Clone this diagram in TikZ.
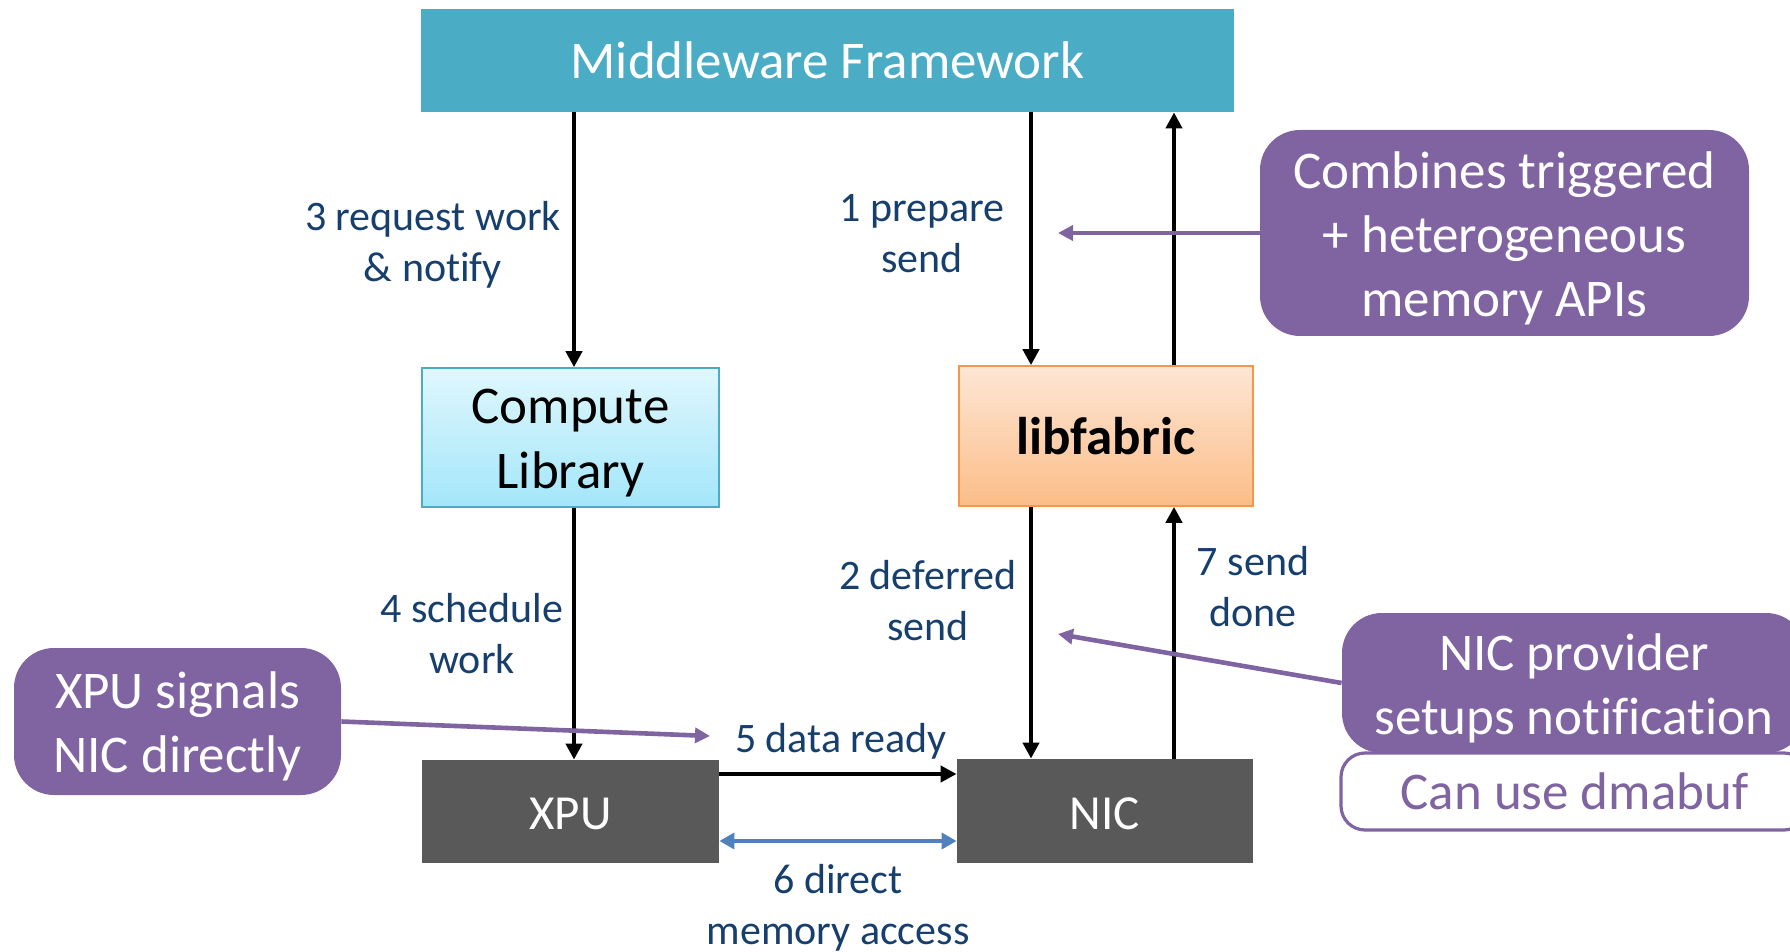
\documentclass[tikz,border=0pt]{standalone}
\usepackage{fontspec}
\setmainfont{Carlito}[Ligatures=NoCommon]
\usetikzlibrary{arrows.meta,calc}
\definecolor{mwteal}{HTML}{4BACC6}
\definecolor{clborder}{HTML}{4BACC6}
\definecolor{cltop}{HTML}{E0F7FD}
\definecolor{clbot}{HTML}{A3E6FA}
\definecolor{lftop}{HTML}{FDE6D5}
\definecolor{lfbot}{HTML}{FBBD88}
\definecolor{lfborder}{HTML}{F79646}
\definecolor{hwgray}{HTML}{595959}
\definecolor{lblblue}{HTML}{173F6E}
\definecolor{calloutpurple}{HTML}{8064A2}
\definecolor{dmablue}{HTML}{4F81BD}
% lower the text lines inside a fixed-size box without changing the box
\newcommand\lowerlines[2]{\raisebox{-#1}[\height][\depth]{\begin{tabular}{@{}c@{}}#2\end{tabular}}}
\begin{document}
\begin{tikzpicture}[x=0.5pt,y=-0.5pt,
  box/.style={rectangle,inner sep=0pt,align=center,font=\fontsize{26.5}{32.5}\selectfont},
  hw/.style={box,fill=hwgray,text=white,font=\fontsize{24.5}{30}\selectfont,text height=18pt,text depth=0pt},
  lbl/.style={align=center,inner sep=0pt,text=lblblue,font=\fontsize{21}{25.5}\selectfont},
  callout/.style={rectangle,rounded corners=20pt,fill=calloutpurple,text=white,inner sep=0pt,font=\fontsize{26.5}{32}\selectfont},
  blk/.style={line width=2.3pt,-{Triangle[length=8pt,width=8pt]}},
  parr/.style={draw=calloutpurple,line width=2.3pt,-{Triangle[length=7.5pt,width=7.5pt]},fill=calloutpurple},
  dma/.style={draw=dmablue,line width=2.3pt,{Triangle[length=7.5pt,width=8pt]}-{Triangle[length=7.5pt,width=8pt]}}
]
\useasboundingbox (0,0) rectangle (1790,952);

% main boxes
\node[box,fill=mwteal,text=white,minimum width=406.5pt,minimum height=51.5pt] (mw) at (827.5,60.5) {Middleware Framework};
\node[box,draw=clborder,line width=0.8pt,top color=cltop,bottom color=clbot,minimum width=148.5pt,minimum height=69.5pt] (cl) at (570.5,437.5) {\lowerlines{3pt}{Compute\\Library}};
\node[box,draw=lfborder,line width=0.8pt,top color=lftop,bottom color=lfbot,minimum width=147pt,minimum height=70pt,font=\fontsize{26.5}{32.5}\selectfont\bfseries] (lf) at (1106,436) {libfabric};
\node[hw,minimum width=148.5pt,minimum height=51.5pt] (xpu) at (570.5,811.5) {XPU};
\node[hw,minimum width=148pt,minimum height=52pt] (nic) at (1105,811) {NIC};

% column coordinates
\coordinate (c1) at (574,0);
\coordinate (c2) at (1031,0);
\coordinate (c3) at (1174,0);
\coordinate (r1) at (0,774);
\coordinate (r2) at (0,841);

% black arrows
\draw[blk] (mw.south -| c1) -- (cl.north -| c1);
\draw[blk] (mw.south -| c2) -- (lf.north -| c2);
\draw[blk] (lf.north -| c3) -- (mw.south -| c3);
\draw[blk] (cl.south -| c1) -- (xpu.north -| c1);
\draw[blk] (lf.south -| c2) -- (nic.north -| c2);
\draw[blk] (nic.north -| c3) -- (lf.south -| c3);
\draw[blk] (xpu.east |- r1) -- (nic.west |- r1);
\draw[dma] (xpu.east |- r2) -- (nic.west |- r2);

% labels
\node[lbl] (l3) at (433,244.5) {3 request work\\\& notify};
\node[lbl] (l1) at (922,234) {1 prepare\\send};
\node[lbl] (l4) at (472,634) {4 schedule\\work};
\node[lbl] (l2) at (928,601) {2 deferred\\send};
\node[lbl] (l7) at (1253,587) {7 send\\done};
\node[lbl] (l5) at (841,741) {5 data ready};
\node[lbl] (l6) at (838,908) {6 direct\\memory access};

% callouts
\node[callout,minimum width=244.5pt,minimum height=103pt] (cb) at (1504.5,233) {\lowerlines{3.4pt}{Combines triggered\\+ heterogeneous\\memory APIs}};
\node[callout,minimum width=163.5pt,minimum height=73.5pt] (xs) at (177.5,721.5) {\lowerlines{3.3pt}{XPU signals\\NIC directly}};
\node[callout,minimum width=232pt,minimum height=70pt] (np) at (1574,683) {\lowerlines{3.3pt}{NIC provider\\setups notification}};
\node[rectangle,rounded corners=12pt,draw=calloutpurple,line width=1.6pt,fill=white,text=calloutpurple,inner sep=0pt,font=\fontsize{26.5}{32}\selectfont,minimum width=233.5pt,minimum height=38.5pt] (dm) at (1574.5,791.5) {Can use dmabuf};

\coordinate (t1) at (1058,233);
\coordinate (t2) at (710,736);
\coordinate (t3) at (1058,634);
\draw[parr] (cb.west) -- (t1);
\draw[parr] (xs.east) -- (t2);
\draw[parr] (np.west) -- (t3);
\end{tikzpicture}
\end{document}
